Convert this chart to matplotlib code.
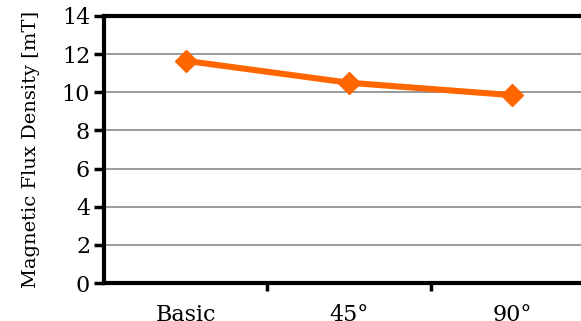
import matplotlib
matplotlib.use('Agg')
import matplotlib.pyplot as plt

categories = ['Basic', '45°', '90°']
flux = [11.65, 10.5, 9.85]
yticks = [0, 2, 4, 6, 8, 10, 12, 14]

plt.rcParams['font.family'] = ['DejaVu Serif']

fig = plt.figure(figsize=(5.81, 3.21), dpi=100)
# plot area runs past the right edge of the figure, as in the reference
ax = fig.add_axes([104/581, 1 - 283/321, 490/581, 267/321])

x = range(len(categories))
ax.plot(x, flux, color='#FF6600', linewidth=4.4, marker='D', markersize=11.5,
        markeredgecolor='#FF6600', solid_capstyle='butt', zorder=3)

ax.set_xlim(-0.5, len(categories) - 0.5)
ax.set_ylim(0, 14)
ax.set_yticks(yticks)
ax.set_yticklabels([str(v) for v in yticks], fontsize=16)
ax.set_xticks(x)
ax.set_xticklabels(categories, fontsize=16)
ax.tick_params(axis='x', length=0, pad=15)
# category separators on the x axis
ax.set_xticks([0.5, 1.5], minor=True)
ax.tick_params(axis='x', which='minor', length=6, width=2.5, direction='out')
ax.tick_params(axis='y', length=7, width=2.5, direction='out', pad=3)

ax.grid(axis='y', color='#9a9a9a', linewidth=1.4)
ax.set_axisbelow(True)
for side in ['left', 'bottom', 'top']:
    ax.spines[side].set_linewidth(3)
    ax.spines[side].set_color('black')
ax.spines['right'].set_visible(False)

ax.set_ylabel('Magnetic Flux Density [mT]', fontsize=14, labelpad=16)

fig.savefig('out.png', dpi=100)
